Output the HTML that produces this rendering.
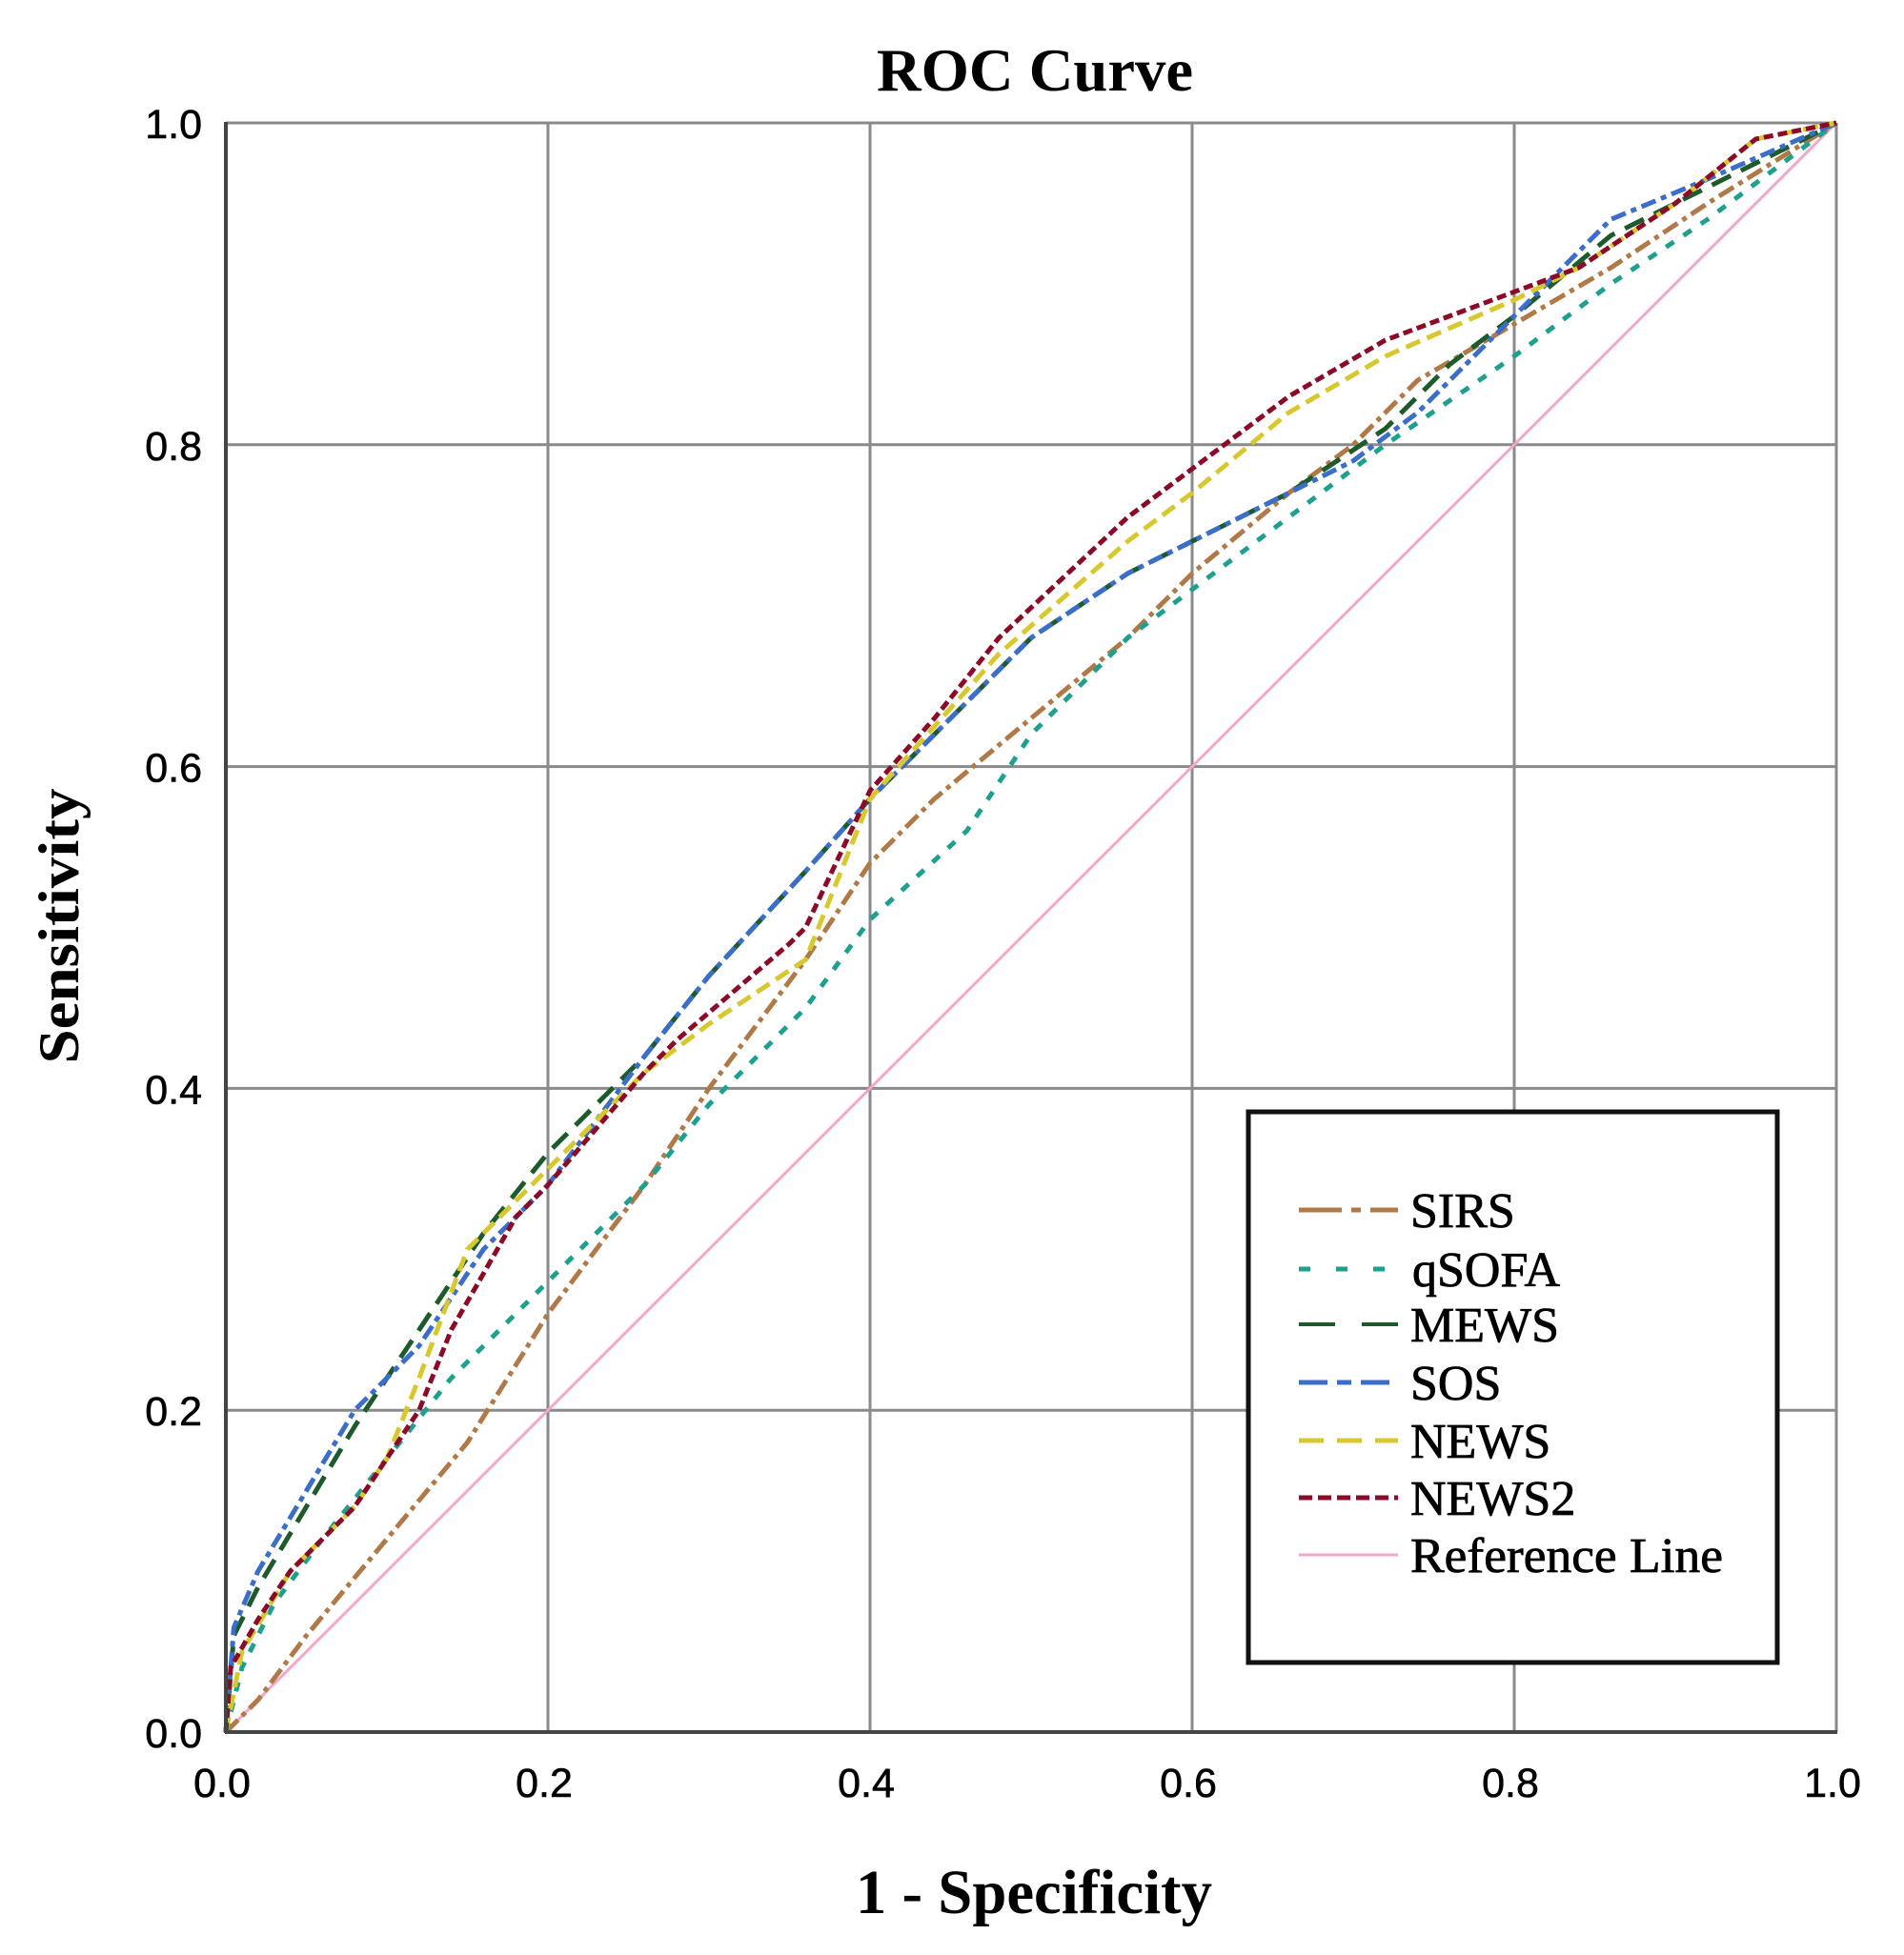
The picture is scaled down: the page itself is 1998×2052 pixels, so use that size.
<!DOCTYPE html>
<html><head><meta charset="utf-8"><style>
html,body{margin:0;padding:0;background:#fff;}
svg{display:block;}
</style></head><body>
<svg id="s" width="1998" height="2052" viewBox="0 0 1998 2052" xmlns="http://www.w3.org/2000/svg">
<rect width="1998" height="2052" fill="#fff"/>
<g id="grid" stroke="#8a8a8a" stroke-width="3"></g>
<g id="curves" fill="none" stroke-linejoin="round"></g>
<line x1="237" y1="128" x2="237" y2="1819" stroke="#444" stroke-width="4"/>
<line x1="236" y1="1818" x2="1928" y2="1818" stroke="#444" stroke-width="4"/>
<text x="1086" y="95" font-family="Liberation Serif, serif" font-weight="bold" font-size="64" text-anchor="middle" textLength="332" lengthAdjust="spacingAndGlyphs">ROC Curve</text>
<text x="1085" y="2008" font-family="Liberation Serif, serif" font-weight="bold" font-size="66" text-anchor="middle" textLength="374" lengthAdjust="spacingAndGlyphs">1 - Specificity</text>
<text transform="translate(82,972) rotate(-90)" font-family="Liberation Serif, serif" font-weight="bold" font-size="60" text-anchor="middle" textLength="289" lengthAdjust="spacingAndGlyphs">Sensitivity</text>
<g font-family="Liberation Sans, sans-serif" font-size="43" fill="#000" stroke="#000" stroke-width="0.6" id="ticks"></g>
<rect x="1310" y="1167" width="555" height="578" fill="#fff" stroke="#111" stroke-width="5"/>
<g font-family="Liberation Serif, serif" font-size="52" fill="#000" stroke="#000" stroke-width="0.8">
<line x1="1363" y1="1270" x2="1467" y2="1270" stroke="#b07a48" stroke-width="5" stroke-dasharray="45,10,10,10"/>
<text x="1480" y="1288">SIRS</text>
<line x1="1363" y1="1332" x2="1467" y2="1332" stroke="#1fa08e" stroke-width="5" stroke-dasharray="12,27"/>
<text x="1482" y="1350">qSOFA</text>
<line x1="1363" y1="1390" x2="1467" y2="1390" stroke="#1d5a2c" stroke-width="4" stroke-dasharray="38,28"/>
<text x="1480" y="1408">MEWS</text>
<line x1="1363" y1="1451" x2="1467" y2="1451" stroke="#3a6ec8" stroke-width="5" stroke-dasharray="30,10,15,10"/>
<text x="1480" y="1469">SOS</text>
<line x1="1363" y1="1512" x2="1467" y2="1512" stroke="#d8c830" stroke-width="5" stroke-dasharray="26,14"/>
<text x="1480" y="1530">NEWS</text>
<line x1="1363" y1="1572" x2="1467" y2="1572" stroke="#8b0a28" stroke-width="5" stroke-dasharray="14,6"/>
<text x="1480" y="1590">NEWS2</text>
<line x1="1363" y1="1632" x2="1467" y2="1632" stroke="#f2a8c8" stroke-width="3"/>
<text x="1480" y="1650" textLength="328" lengthAdjust="spacingAndGlyphs">Reference Line</text>
</g>
</svg>
<script>
var X0=237,X1=1927,Y0=1818,Y1=129;
function px(x){return X0+(X1-X0)*x;} function py(y){return Y0-(Y0-Y1)*y;}
var NS="http://www.w3.org/2000/svg";
var g=document.getElementById('grid');
for(var i=1;i<=5;i++){var v=i*0.2;
 var l=document.createElementNS(NS,'line');l.setAttribute('x1',px(v));l.setAttribute('x2',px(v));l.setAttribute('y1',Y1);l.setAttribute('y2',Y0);g.appendChild(l);
 l=document.createElementNS(NS,'line');l.setAttribute('y1',py(v));l.setAttribute('y2',py(v));l.setAttribute('x1',X0);l.setAttribute('x2',X1);g.appendChild(l);}
var t=document.getElementById('ticks');
var labs=['0.0','0.2','0.4','0.6','0.8','1.0'];
for(var i=0;i<=5;i++){var v=i*0.2;
 var e=document.createElementNS(NS,'text');e.setAttribute('x',212);e.setAttribute('y',py(v)+16);e.setAttribute('text-anchor','end');e.textContent=labs[i];t.appendChild(e);
 e=document.createElementNS(NS,'text');e.setAttribute('x',px(v)-4);e.setAttribute('y',1886);e.setAttribute('text-anchor','middle');e.textContent=labs[i];t.appendChild(e);}
var series=[
 ['#f2a8c8','',3,[[0,0],[1,1]]],
 ['#b07a48','18,6,5,6',5,[[0,0],[0.02,0.02],[0.05,0.06],[0.1,0.12],[0.15,0.18],[0.2,0.26],[0.26,0.34],[0.3,0.4],[0.36,0.48],[0.4,0.54],[0.44,0.58],[0.5,0.63],[0.56,0.68],[0.6,0.72],[0.66,0.77],[0.7,0.8],[0.74,0.84],[0.8,0.875],[0.86,0.91],[0.92,0.95],[1,1]]],
 ['#1fa08e','10,12',5,[[0,0],[0.01,0.04],[0.03,0.08],[0.06,0.12],[0.1,0.17],[0.14,0.22],[0.2,0.28],[0.26,0.34],[0.3,0.39],[0.36,0.45],[0.4,0.505],[0.46,0.56],[0.5,0.62],[0.56,0.68],[0.6,0.71],[0.66,0.755],[0.72,0.8],[0.8,0.855],[0.86,0.9],[0.92,0.94],[1,1]]],
 ['#1d5a2c','22,12',5,[[0,0],[0.005,0.06],[0.02,0.09],[0.05,0.14],[0.08,0.19],[0.12,0.25],[0.16,0.31],[0.2,0.36],[0.26,0.42],[0.3,0.47],[0.36,0.535],[0.4,0.58],[0.44,0.62],[0.5,0.68],[0.56,0.72],[0.6,0.74],[0.66,0.77],[0.72,0.81],[0.76,0.85],[0.8,0.88],[0.86,0.93],[0.92,0.96],[1,1]]],
 ['#3a6ec8','16,6,6,6',5,[[0,0],[0.005,0.065],[0.02,0.1],[0.05,0.15],[0.08,0.2],[0.12,0.24],[0.16,0.3],[0.2,0.34],[0.26,0.42],[0.3,0.47],[0.36,0.535],[0.4,0.58],[0.44,0.62],[0.5,0.68],[0.56,0.72],[0.6,0.74],[0.66,0.77],[0.7,0.79],[0.74,0.82],[0.8,0.88],[0.86,0.94],[0.92,0.965],[1,1]]],
 ['#d8c830','16,8',5,[[0,0],[0.01,0.05],[0.04,0.1],[0.08,0.14],[0.1,0.17],[0.12,0.22],[0.15,0.3],[0.2,0.35],[0.26,0.41],[0.3,0.44],[0.36,0.48],[0.4,0.58],[0.48,0.67],[0.56,0.74],[0.6,0.77],[0.66,0.82],[0.72,0.855],[0.8,0.89],[0.84,0.91],[0.9,0.95],[0.95,0.99],[1,1]]],
 ['#8b0a28','10,5',5,[[0,0],[0.003,0.04],[0.02,0.07],[0.04,0.1],[0.08,0.14],[0.12,0.2],[0.14,0.25],[0.18,0.32],[0.2,0.34],[0.26,0.41],[0.28,0.43],[0.35,0.49],[0.36,0.5],[0.4,0.585],[0.44,0.63],[0.48,0.68],[0.56,0.755],[0.6,0.785],[0.66,0.83],[0.72,0.865],[0.8,0.895],[0.84,0.91],[0.9,0.95],[0.95,0.99],[1,1]]]
];
var c=document.getElementById('curves');
series.forEach(function(s){var d='';s[3].forEach(function(p,i){d+=(i?'L':'M')+px(p[0]).toFixed(1)+','+py(p[1]).toFixed(1);});
 var p=document.createElementNS(NS,'path');p.setAttribute('d',d);p.setAttribute('stroke',s[0]);p.setAttribute('stroke-width',s[2]);if(s[1])p.setAttribute('stroke-dasharray',s[1]);c.appendChild(p);});
</script>
</body></html>
